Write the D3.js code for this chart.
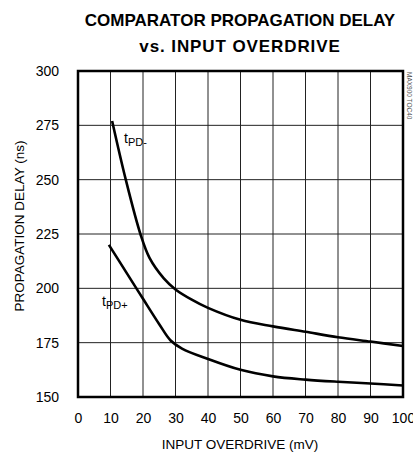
<!DOCTYPE html>
<html><head><meta charset="utf-8">
<script src="https://cdn.jsdelivr.net/npm/d3@7"></script>
<style>body{margin:0;background:#fff}</style>
</head><body>
<svg id="c" width="413" height="455"></svg>
<script>
const titleLines = ["COMPARATOR PROPAGATION DELAY", "vs. INPUT OVERDRIVE"];
const xTicks = [0,10,20,30,40,50,60,70,80,90,100];
const yTicks = [150,175,200,225,250,275,300];
const tpdMinusX = [10.5,14.7,19.2,22,26.4,30,35,40,50,60,70,80,90,100];
const tpdMinusY = [277,250,225,214,204.6,199.5,194.8,191,185.5,182.5,180,177.5,175.5,173.5];
const tpdPlusX = [9.5,15,20,25,28.5,32,40,50,60,70,80,90,100];
const tpdPlusY = [220,207,195.2,183.5,176,172.3,167.5,162.5,159.5,158,157,156.2,155.3];

const svg = d3.select("#c");
const M = {l:78, t:71, r:403, b:397};
const x = d3.scaleLinear().domain([0,100]).range([M.l, M.r]);
const y = d3.scaleLinear().domain([150,300]).range([M.b, M.t]);
const font = "'Liberation Sans', Arial, sans-serif";
const titleSpacing = [0, 0.9];

// title
svg.selectAll("text.title").data(titleLines).join("text")
  .attr("x", 240).attr("y", (d,i)=>26+i*25.5)
  .attr("text-anchor","middle").attr("font-family",font)
  .attr("font-weight","bold").attr("font-size",17).attr("fill","#000")
  .attr("letter-spacing",(d,i)=>titleSpacing[i]).text(d=>d);

// grid
const g = svg.append("g");
g.selectAll("line.vg").data(xTicks.slice(1,-1)).join("line")
  .attr("x1",d=>x(d)).attr("x2",d=>x(d)).attr("y1",M.t).attr("y2",M.b)
  .attr("stroke","#222").attr("stroke-width",1);
g.selectAll("line.hg").data(yTicks.slice(1,-1)).join("line")
  .attr("y1",d=>y(d)).attr("y2",d=>y(d)).attr("x1",M.l).attr("x2",M.r)
  .attr("stroke","#222").attr("stroke-width",1);

// axes (labels only)
const xa = svg.append("g").attr("transform",`translate(0,${M.b})`)
  .call(d3.axisBottom(x).tickValues(xTicks).tickSize(0).tickPadding(16));
const ya = svg.append("g").attr("transform",`translate(${M.l},0)`)
  .call(d3.axisLeft(y).tickValues(yTicks).tickSize(0).tickPadding(19));
[xa,ya].forEach(a=>{a.select(".domain").remove();
  a.selectAll("text").attr("font-family",font).attr("font-size",14).attr("fill","#000");});

// frame
svg.append("rect").attr("x",M.l).attr("y",M.t).attr("width",M.r-M.l).attr("height",M.b-M.t)
  .attr("fill","none").attr("stroke","#000").attr("stroke-width",2.5);

// curves
const line = d3.line().x(d=>x(d[0])).y(d=>y(d[1])).curve(d3.curveCatmullRom.alpha(0.5));
svg.append("path").datum(d3.zip(tpdMinusX,tpdMinusY)).attr("d",line)
  .attr("fill","none").attr("stroke","#000").attr("stroke-width",2.6);
svg.append("path").datum(d3.zip(tpdPlusX,tpdPlusY)).attr("d",line)
  .attr("fill","none").attr("stroke","#000").attr("stroke-width",2.6);

// curve labels
function lab(px,py,sub){
  const t = svg.append("text").attr("x",px).attr("y",py).attr("font-family",font).attr("font-size",14).attr("fill","#000");
  t.append("tspan").text("t");
  t.append("tspan").attr("font-size",11).attr("dy",3).text(sub);
}
lab(124,143,"PD-");
lab(102,306,"PD+");

// axis titles
svg.append("text").attr("x",240).attr("y",449).attr("text-anchor","middle")
  .attr("font-family",font).attr("font-size",13.5).attr("fill","#000").text("INPUT OVERDRIVE (mV)");
svg.append("text").attr("transform","translate(24,226) rotate(-90)").attr("text-anchor","middle")
  .attr("font-family",font).attr("font-size",13.5).attr("fill","#000").text("PROPAGATION DELAY (ns)");

// side code
svg.append("text").attr("transform","translate(407,72) rotate(90)")
  .attr("font-family",font).attr("font-size",6.5).attr("fill","#555").text("MAX900 TOC40");
</script>
</body></html>
